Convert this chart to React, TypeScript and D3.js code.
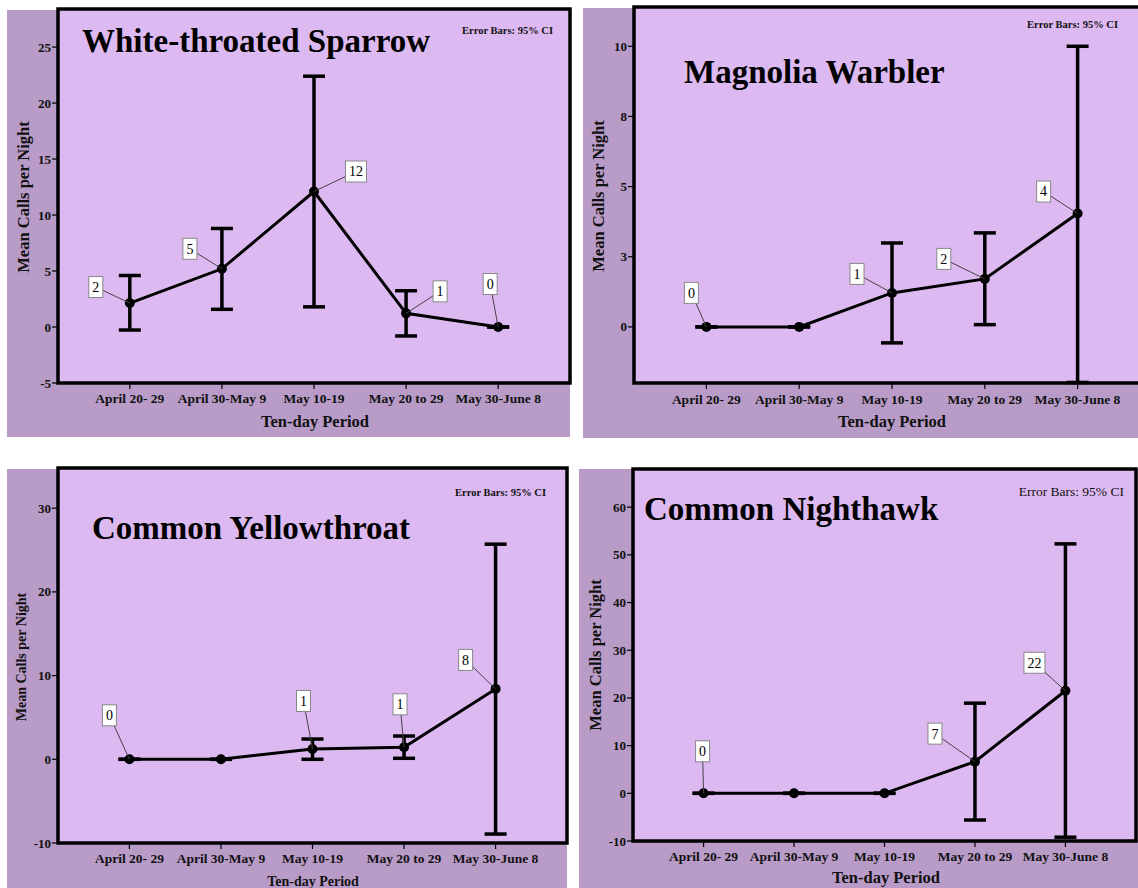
import React from "react";
import * as d3 from "d3";

// ---------- data ----------
const periods = ["April 20- 29", "April 30-May 9", "May 10-19", "May 20 to 29", "May 30-June 8"];

const sparrowMean = [2.14, 5.2, 12.1, 1.22, 0];
const sparrowLow = [-0.27, 1.58, 1.8, -0.8, 0];
const sparrowHigh = [4.6, 8.8, 22.4, 3.24, 0];
const sparrowLabels = ["2", "5", "12", "1", "0"];
const sparrowTicks = [-5, 0, 5, 10, 15, 20, 25];
const sparrowTickLabels = ["-5", "0", "5", "10", "15", "20", "25"];

const magnoliaMean = [0, 0, 1.21, 1.71, 4.04];
const magnoliaLow = [0, 0, -0.57, 0.08, -1.98];
const magnoliaHigh = [0, 0, 2.99, 3.35, 10.0];
const magnoliaLabels = ["0", "", "1", "2", "4"];
const magnoliaTicks = [0, 2.5, 5, 7.5, 10];
const magnoliaTickLabels = ["0", "3", "5", "8", "10"];

const yellowMean = [0, 0, 1.23, 1.43, 8.41];
const yellowLow = [0, 0, 0, 0.12, -8.93];
const yellowHigh = [0, 0, 2.42, 2.78, 25.7];
const yellowLabels = ["0", "", "1", "1", "8"];
const yellowTicks = [-10, 0, 10, 20, 30];
const yellowTickLabels = ["-10", "0", "10", "20", "30"];

const nighthawkMean = [0, 0, 0, 6.64, 21.5];
const nighthawkLow = [0, 0, 0, -5.6, -9.2];
const nighthawkHigh = [0, 0, 0, 18.9, 52.3];
const nighthawkLabels = ["0", "", "", "7", "22"];
const nighthawkTicks = [-10, 0, 10, 20, 30, 40, 50, 60];
const nighthawkTickLabels = ["-10", "0", "10", "20", "30", "40", "50", "60"];

// ---------- layout / style ----------
const FONT = "'Liberation Serif', 'Times New Roman', serif";
const LIGHT = "#ddb9f1";
const DARK = "#b89bc7";

type Panel = {
  title: string;
  mean: number[]; low: number[]; high: number[]; labels: string[];
  ticks: number[]; tickLabels: string[];
  domain: [number, number];
  bg: [number, number, number, number];
  frame: [number, number, number, number];
  titlePos: [number, number];
  errPos: [number, number]; errSize: number; errWeight: string;
  yLabelPos: [number, number]; yLabelSize: number;
  xTickY: number; xTitlePos: [number, number]; xTitleSize: number;
  labelOffsets: ([number, number] | null)[];
};

const panels: Panel[] = [
  {
    title: "White-throated Sparrow",
    mean: sparrowMean, low: sparrowLow, high: sparrowHigh, labels: sparrowLabels,
    ticks: sparrowTicks, tickLabels: sparrowTickLabels,
    domain: [-5, 28.4],
    bg: [7, 10, 570, 437], frame: [58, 9, 570, 383],
    titlePos: [82, 52],
    errPos: [553, 34], errSize: 10.5, errWeight: "bold",
    yLabelPos: [23, 197], yLabelSize: 16.5,
    xTickY: 403, xTitlePos: [315, 427], xTitleSize: 16.5,
    labelOffsets: [[-34, -16], [-32, -20], [42, -20], [34, -22], [-8, -43]],
  },
  {
    title: "Magnolia Warbler",
    mean: magnoliaMean, low: magnoliaLow, high: magnoliaHigh, labels: magnoliaLabels,
    ticks: magnoliaTicks, tickLabels: magnoliaTickLabels,
    domain: [-2, 11.4],
    bg: [583, 8, 1138, 438], frame: [634, 7, 1150, 383],
    titlePos: [684, 83],
    errPos: [1118, 28], errSize: 10.5, errWeight: "bold",
    yLabelPos: [598, 196], yLabelSize: 16.5,
    xTickY: 404, xTitlePos: [892, 427], xTitleSize: 16.5,
    labelOffsets: [[-15, -34], null, [-35, -19], [-41, -20], [-34, -22]],
  },
  {
    title: "Common Yellowthroat",
    mean: yellowMean, low: yellowLow, high: yellowHigh, labels: yellowLabels,
    ticks: yellowTicks, tickLabels: yellowTickLabels,
    domain: [-10, 34.8],
    bg: [7, 469, 567, 888], frame: [58, 468, 567, 843],
    titlePos: [92, 539],
    errPos: [546, 496], errSize: 10.5, errWeight: "bold",
    yLabelPos: [21, 657], yLabelSize: 14,
    xTickY: 863, xTitlePos: [313, 886], xTitleSize: 14,
    labelOffsets: [[-20, -44], null, [-9, -48], [-4, -43], [-30, -29]],
  },
  {
    title: "Common Nighthawk",
    mean: nighthawkMean, low: nighthawkLow, high: nighthawkHigh, labels: nighthawkLabels,
    ticks: nighthawkTicks, tickLabels: nighthawkTickLabels,
    domain: [-10, 68],
    bg: [579, 469, 1138, 888], frame: [633, 469, 1136, 841],
    titlePos: [644, 520],
    errPos: [1124, 496], errSize: 13.5, errWeight: "normal",
    yLabelPos: [595, 655], yLabelSize: 16.5,
    xTickY: 861, xTitlePos: [886, 883], xTitleSize: 16.5,
    labelOffsets: [[-1, -42], null, null, [-40, -28], [-31, -28]],
  },
];

function ChartPanel({ p }: { p: Panel }) {
  const [fx0, fy0, fx1, fy1] = p.frame;
  const [bx0, by0, bx1, by1] = p.bg;
  const x = d3.scalePoint<string>().domain(periods).range([fx0, fx1]).padding(0.78);
  const y = d3.scaleLinear().domain(p.domain).range([fy1, fy0]);
  const line = d3
    .line<number>()
    .x((_, i) => x(periods[i]) as number)
    .y((d) => y(d));
  const cap = 11;
  return (
    <g>
      <rect x={bx0} y={by0} width={bx1 - bx0} height={by1 - by0} fill={DARK} />
      <rect x={fx0} y={fy0} width={fx1 - fx0} height={fy1 - fy0} fill={LIGHT} stroke="#000" strokeWidth={3.5} />
      {/* y ticks */}
      {p.ticks.map((t, i) => (
        <g key={"yt" + i}>
          <line x1={fx0 - 6} x2={fx0} y1={y(t)} y2={y(t)} stroke="#000" strokeWidth={1.2} />
          <text x={fx0 - 7} y={y(t)} dy="0.35em" textAnchor="end" fontFamily={FONT} fontSize={13} fontWeight="bold" fill="#111">
            {p.tickLabels[i]}
          </text>
        </g>
      ))}
      {/* x ticks */}
      {periods.map((c) => (
        <g key={"xt" + c}>
          <line x1={x(c)} x2={x(c)} y1={fy1} y2={fy1 + 6} stroke="#000" strokeWidth={1.2} />
          <text x={x(c)} y={p.xTickY} textAnchor="middle" fontFamily={FONT} fontSize={13.5} fontWeight="bold" fill="#111">
            {c}
          </text>
        </g>
      ))}
      {/* axis titles */}
      <text x={p.xTitlePos[0]} y={p.xTitlePos[1]} textAnchor="middle" fontFamily={FONT} fontSize={p.xTitleSize} fontWeight="bold" fill="#111">
        Ten-day Period
      </text>
      <text
        transform={`translate(${p.yLabelPos[0]},${p.yLabelPos[1]}) rotate(-90)`}
        textAnchor="middle"
        dy="0.35em"
        fontFamily={FONT}
        fontSize={p.yLabelSize}
        fontWeight="bold"
        fill="#111"
      >
        Mean Calls per Night
      </text>
      {/* title */}
      <text x={p.titlePos[0]} y={p.titlePos[1]} fontFamily={FONT} fontSize={33} fontWeight="bold" fill="#000">
        {p.title}
      </text>
      <text x={p.errPos[0]} y={p.errPos[1]} textAnchor="end" fontFamily={FONT} fontSize={p.errSize} fontWeight={p.errWeight} fill="#111">
        Error Bars: 95% CI
      </text>
      {/* error bars */}
      {periods.map((c, i) => {
        const cx = x(c) as number;
        return (
          <g key={"eb" + i} stroke="#000" strokeWidth={3.5}>
            <line x1={cx} x2={cx} y1={y(p.low[i])} y2={y(p.high[i])} />
            <line x1={cx - cap} x2={cx + cap} y1={y(p.low[i])} y2={y(p.low[i])} />
            <line x1={cx - cap} x2={cx + cap} y1={y(p.high[i])} y2={y(p.high[i])} />
          </g>
        );
      })}
      {/* mean line */}
      <path d={line(p.mean) || ""} fill="none" stroke="#000" strokeWidth={3} />
      {p.mean.map((m, i) => (
        <circle key={"pt" + i} cx={x(periods[i])} cy={y(m)} r={5} fill="#000" />
      ))}
      {/* value labels */}
      {p.labels.map((lab, i) => {
        const off = p.labelOffsets[i];
        if (!lab || !off) return null;
        const px = x(periods[i]) as number;
        const py = y(p.mean[i]);
        const lx = px + off[0];
        const ly = py + off[1];
        const w = lab.length > 1 ? 21 : 14;
        const h = 21;
        return (
          <g key={"lb" + i}>
            <line x1={lx} y1={ly} x2={px} y2={py} stroke="#444" strokeWidth={1} />
            <rect x={lx - w / 2} y={ly - h / 2} width={w} height={h} fill="#fff" stroke="#888" strokeWidth={1} />
            <text x={lx} y={ly} dy="0.35em" textAnchor="middle" fontFamily={FONT} fontSize={14} fill="#000">
              {lab}
            </text>
          </g>
        );
      })}
    </g>
  );
}

export default function App() {
  return (
    <svg width={1138} height={888} style={{ position: "absolute", left: 0, top: 0, background: "#fff" }}>
      <rect x={0} y={0} width={1138} height={888} fill="#fff" />
      {panels.map((p) => (
        <ChartPanel key={p.title} p={p} />
      ))}
    </svg>
  );
}
